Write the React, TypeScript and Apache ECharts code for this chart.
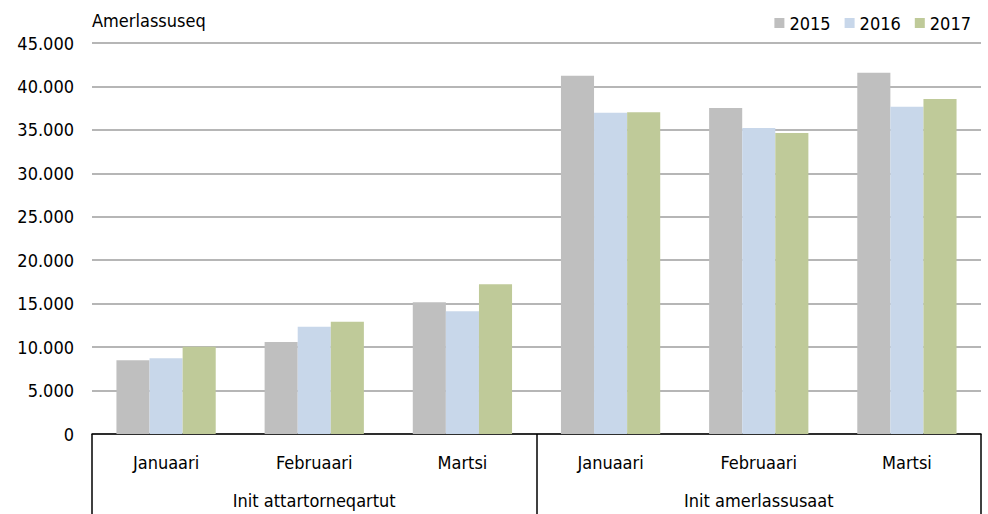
import React, { useEffect, useRef } from "react";
import * as echarts from "echarts";

const months = ["Januaari", "Februaari", "Martsi", "Januaari", "Februaari", "Martsi"];
const groups = ["Init attartorneqartut", "Init amerlassusaat"];
const years = ["2015", "2016", "2017"];
const v2015 = [8480, 10590, 15150, 41230, 37510, 41580];
const v2016 = [8710, 12350, 14120, 36970, 35210, 37660];
const v2017 = [10050, 12930, 17230, 37020, 34640, 38550];
const colors = ["#bfbfbf", "#c8d7ea", "#bfca99"];

const FONT = "'DejaVu Sans Condensed', 'Roboto', sans-serif";
const FS = 18;

export default function App() {
  const ref = useRef<HTMLDivElement>(null);
  useEffect(() => {
    if (!ref.current) return;
    const chart = echarts.init(ref.current, null, { renderer: "svg" });
    const fmt = (v: number) => String(v).replace(/\B(?=(\d{3})+(?!\d))/g, ".");
    chart.setOption({
      animation: false,
      textStyle: { fontFamily: FONT, color: "#000" },
      legend: {
        top: 9,
        right: 12,
        icon: "rect",
        itemWidth: 10,
        itemHeight: 10,
        itemGap: 14,
        textStyle: { fontFamily: FONT, fontSize: FS, color: "#000" },
        data: years,
      },
      grid: { left: 92, right: 7, top: 43, bottom: 80, containLabel: false },
      xAxis: [
        {
          type: "category",
          data: months,
          position: "bottom",
          axisLine: { show: false },
          axisTick: { show: false },
          axisLabel: { margin: 19, fontSize: FS, color: "#000", fontFamily: FONT },
        },
        {
          type: "category",
          data: groups,
          position: "bottom",
          axisLine: { show: true, lineStyle: { color: "#000", width: 1.5 } },
          axisTick: { show: true, length: 80, lineStyle: { color: "#000", width: 1.5 } },
          axisLabel: { margin: 57, fontSize: FS, color: "#000", fontFamily: FONT },
        },
      ],
      yAxis: {
        type: "value",
        min: 0,
        max: 45000,
        interval: 5000,
        name: "Amerlassuseq",
        nameLocation: "end",
        nameGap: 23,
        nameTextStyle: { align: "left", verticalAlign: "middle", fontSize: FS, color: "#000", fontFamily: FONT },
        axisLine: { show: false },
        axisTick: { show: false },
        axisLabel: { margin: 18, fontSize: FS, color: "#000", fontFamily: FONT, formatter: fmt },
        splitLine: { lineStyle: { color: "#9e9e9e", width: 1.5 } },
      },
      series: [v2015, v2016, v2017].map((d, i) => ({
        type: "bar",
        name: years[i],
        data: d,
        xAxisIndex: 0,
        barGap: "0%",
        barCategoryGap: "33%",
        itemStyle: { color: colors[i] },
      })),
    });
    return () => chart.dispose();
  }, []);
  return <div ref={ref} style={{ width: 988, height: 514, position: "absolute", left: 0, top: 0 }} />;
}
